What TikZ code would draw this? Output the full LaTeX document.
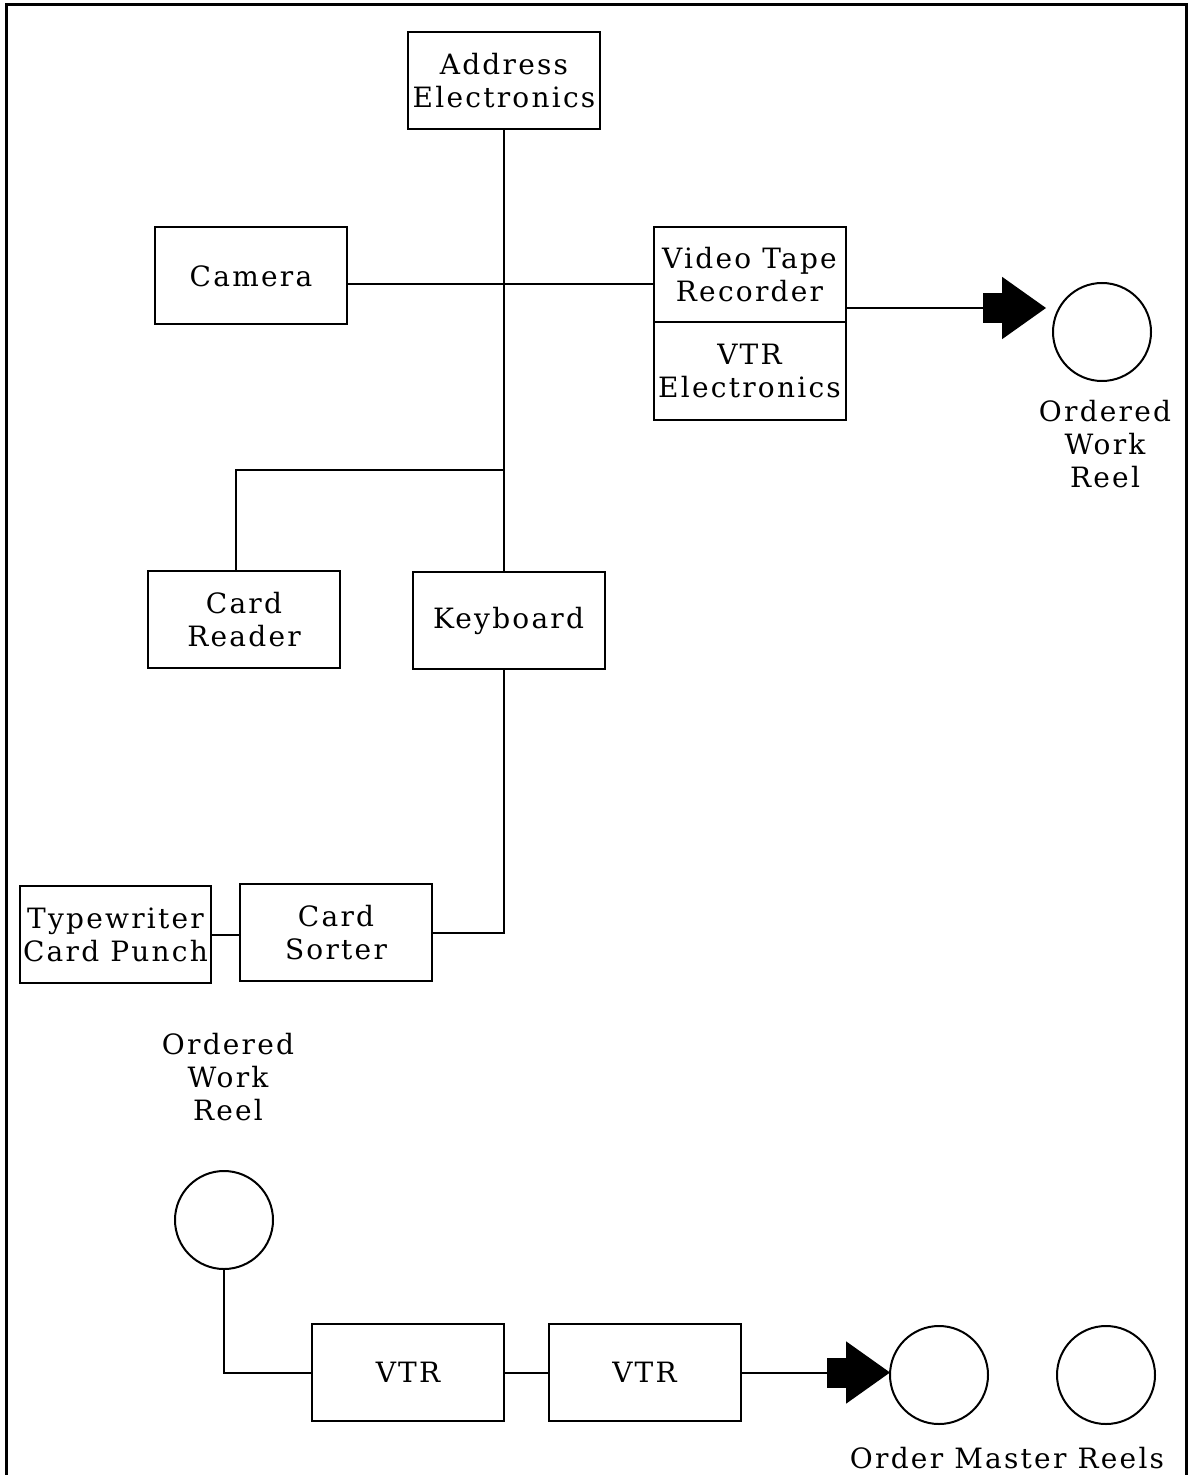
\documentclass[tikz,border=0pt]{standalone}
\usepackage{fontspec}
\setmainfont{DejaVu Serif}[LetterSpace=8]
\usetikzlibrary{arrows.meta,positioning}

\begin{document}
\begin{tikzpicture}[x=0.5pt,y=-0.5pt]
\tikzset{
  unitbox/.style={draw=black,line width=1pt,minimum width=96pt,minimum height=48.5pt,inner sep=1pt,outer sep=0pt,align=center,font=\fontsize{14}{16.5}\selectfont},
  reel/.style={circle,draw=black,line width=1pt,minimum size=49pt,inner sep=0pt},
  caption/.style={align=center,inner sep=0pt,font=\fontsize{14}{16.5}\selectfont},
  wire/.style={draw=black,line width=1pt},
  fatarrow/.style={wire,-{Rectangle[length=10pt,width=15pt,sep=-0.5pt]Triangle[length=22pt,width=31pt,sep=-0.5pt]}}
}
\useasboundingbox (0,0) rectangle (1190,1475);
% outer frame, open at the bottom
\draw[line width=1.5pt] (6,1475) -- (6,5) -- (1186,5) -- (1186,1475);
\node[unitbox] (address) at (504,81) {Address\\Electronics};
\node[unitbox] (camera) at (251,276) {Camera};
\node[unitbox,minimum height=47.5pt] (vtr) at (749.5,274.5) {Video Tape\\Recorder};
\node[unitbox,below=0pt of vtr,minimum height=49pt] (vtrelec) {VTR\\Electronics};
\node[unitbox] (cardreader) at (244,619.5) {Card\\Reader};
\node[unitbox] (keyboard) at (508.5,620.5) {Keyboard};
\node[unitbox,minimum width=95.5pt] (punch) at (115.5,934.5) {Typewriter\\Card Punch};
\node[unitbox] (sorter) at (336,932.5) {Card\\Sorter};
\node[reel] (workreel) at (1102,332) {};
\node[caption] (workreel_lbl) at (1105,444) {Ordered\\Work\\Reel};
\node[caption] (orderreel_lbl) at (228,1077) {Ordered\\Work\\Reel};
\node[reel] (orderreel) at (224,1220) {};
\node[unitbox] (vtra) at (408,1372.5) {VTR};
\node[unitbox] (vtrb) at (644.5,1372.5) {VTR};
\node[reel] (mastera) at (939,1375) {};
\node[reel] (masterb) at (1106,1375) {};
\node[caption] (master_lbl) at (1007,1458) {Order Master Reels};
% recording station
\draw[wire] (address.south) -- (address.south |- keyboard.north);
\draw[wire] ([yshift=-4pt]camera.east) -- ([yshift=-4pt]camera.east -| vtr.west);
\coordinate (tap) at (504,470);
\draw[wire] (tap) -| ([xshift=-4pt]cardreader.north);
\draw[wire] (keyboard.south -| address.south) |- (sorter.east);
\draw[wire] (punch.east) -- (punch.east -| sorter.west);
\draw[fatarrow,shorten >=3.5pt] ([yshift=7pt]vtr.south east) -- ([yshift=7pt]vtr.south east -| workreel.west);
% editing station
\draw[wire] (orderreel.south) |- (vtra.west);
\draw[wire] (vtra.east) -- (vtrb.west);
\draw[fatarrow] (vtrb.east) -- (vtrb.east -| mastera.west);
\end{tikzpicture}
\end{document}
